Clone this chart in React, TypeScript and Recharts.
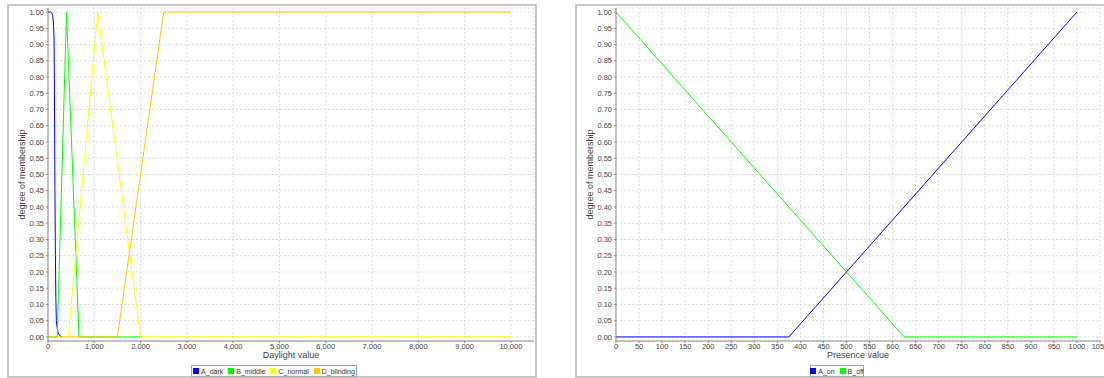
import React from 'react';
import { LineChart, Line, XAxis, YAxis, CartesianGrid } from 'recharts';

// ---------- Data ----------
const daylightTicks = [0, 1000, 2000, 3000, 4000, 5000, 6000, 7000, 8000, 9000, 10000];
const presenceTicks = [0, 50, 100, 150, 200, 250, 300, 350, 400, 450, 500, 550, 600, 650, 700, 750, 800, 850, 900, 950, 1000, 1050];
const membershipTicks = [0, 0.05, 0.1, 0.15, 0.2, 0.25, 0.3, 0.35, 0.4, 0.45, 0.5, 0.55, 0.6, 0.65, 0.7, 0.75, 0.8, 0.85, 0.9, 0.95, 1];

const aDarkX = [0, 60, 80, 100, 110, 120, 130, 140, 145, 150, 160, 170, 180, 200, 220, 250, 300];
const aDarkY = [1, 1, 0.998, 0.99, 0.98, 0.96, 0.92, 0.75, 0.56, 0.45, 0.25, 0.12, 0.05, 0.025, 0.012, 0.005, 0];

const bMiddleX = [0, 200, 400, 670, 2000];
const bMiddleY = [0, 0, 1, 0, 0];

const cNormalX = [440, 1075, 2000, 10000];
const cNormalY = [0, 1, 0, 0];

const dBlindingX = [0, 1500, 2500, 10000];
const dBlindingY = [0, 0, 1, 1];

const aOnX = [0, 375, 1000];
const aOnY = [0, 0, 1];

const bOffX = [0, 625, 1000];
const bOffY = [1, 0, 0];

const daylightSeries = [
  { name: 'A_dark', color: '#0000ff', x: aDarkX, y: aDarkY },
  { name: 'B_middle', color: '#00ff00', x: bMiddleX, y: bMiddleY },
  { name: 'C_normal', color: '#ffff00', x: cNormalX, y: cNormalY },
  { name: 'D_blinding', color: '#ffc800', x: dBlindingX, y: dBlindingY },
];

const presenceSeries = [
  { name: 'A_on', color: '#0000ff', x: aOnX, y: aOnY },
  { name: 'B_off', color: '#00ff00', x: bOffX, y: bOffY },
];

const toPoints = (xs: number[], ys: number[]) => xs.map((x, i) => ({ x, y: ys[i] }));

// ---------- Styles ----------
const FONT = '"Liberation Sans", Arial, sans-serif';
const TICK = { fontSize: 7.5, fill: '#444', fontFamily: FONT };
const AXIS_COLOR = '#8a8a8a';
const GRID_COLOR = '#dcdcdc';

type Series = { name: string; color: string; x: number[]; y: number[] };

function Legend({ items, left, width }: { items: Series[]; left: number; width: number }) {
  return (
    <div
      style={{
        position: 'absolute',
        left,
        top: 365,
        width,
        height: 12,
        boxSizing: 'border-box',
        border: '1px solid #a8a8a8',
        display: 'flex',
        alignItems: 'center',
        justifyContent: 'center',
        gap: 5,
        fontFamily: FONT,
        fontSize: 7,
        lineHeight: '9px',
        color: '#333',
        background: '#fff',
        whiteSpace: 'nowrap',
      }}
    >
      {items.map((s) => (
        <div key={s.name} style={{ display: 'flex', alignItems: 'center', gap: 2 }}>
          <span style={{ display: 'inline-block', width: 6, height: 6, background: s.color }} />
          <span>{s.name}</span>
        </div>
      ))}
    </div>
  );
}

function Panel({
  left,
  series,
  ticks,
  domain,
  xLabel,
  format,
  chartWidth,
  marginRight,
}: {
  left: number;
  series: Series[];
  ticks: number[];
  domain: [number, number];
  xLabel: string;
  format: (v: number) => string;
  chartWidth: number;
  marginRight: number;
}) {
  return (
    <div style={{ position: 'absolute', left, top: 0 }}>
      <LineChart width={chartWidth} height={378} margin={{ top: 8, right: marginRight, bottom: 0, left: 0 }}>
        <CartesianGrid stroke={GRID_COLOR} strokeDasharray="2 2" />
        <XAxis
          type="number"
          dataKey="x"
          domain={domain}
          ticks={ticks}
          interval={0}
          allowDataOverflow
          height={37}
          tickSize={2}
          tickMargin={1}
          tick={TICK}
          tickFormatter={format}
          stroke={AXIS_COLOR}
          label={{ value: xLabel, position: 'insideTop', offset: 11, fontSize: 9, fill: '#444', fontFamily: FONT }}
        />
        <XAxis
          xAxisId="top"
          orientation="top"
          type="number"
          domain={domain}
          height={0}
          tick={false}
          tickLine={false}
          stroke="#b0b0b0"
        />
        <YAxis
          type="number"
          domain={[-0.0125, 1.0125]}
          ticks={membershipTicks}
          interval={0}
          allowDataOverflow
          width={48}
          tickSize={2}
          tickMargin={2}
          tick={TICK}
          tickFormatter={(v: number) => v.toFixed(2)}
          stroke={AXIS_COLOR}
          label={{ value: 'degree of membership', angle: -90, position: 'center', dx: -2, fontSize: 9, fill: '#444', fontFamily: FONT }}
        />
        <YAxis
          yAxisId="right"
          orientation="right"
          type="number"
          domain={[0, 1]}
          width={0}
          tick={false}
          tickLine={false}
          stroke="#b0b0b0"
        />
        {series.map((s) => (
          <Line
            key={s.name}
            data={toPoints(s.x, s.y)}
            dataKey="y"
            name={s.name}
            type="linear"
            stroke={s.color}
            strokeWidth={1}
            dot={false}
            activeDot={false}
            isAnimationActive={false}
          />
        ))}
      </LineChart>
    </div>
  );
}

export default function App() {
  return (
    <div
      style={{
        position: 'fixed',
        left: 0,
        top: 0,
        width: 1104,
        height: 378,
        background: '#fff',
        overflow: 'hidden',
        fontFamily: FONT,
      }}
    >
      <div
        style={{
          position: 'absolute',
          left: 7,
          top: 4,
          width: 530,
          height: 374,
          boxSizing: 'border-box',
          border: '2px solid #c8c8c8',
        }}
      />
      <div
        style={{
          position: 'absolute',
          left: 575,
          top: 4,
          width: 560,
          height: 374,
          boxSizing: 'border-box',
          border: '2px solid #c8c8c8',
        }}
      />
      <Panel
        left={0}
        series={daylightSeries}
        ticks={daylightTicks}
        domain={[0, 10500]}
        xLabel="Daylight value"
        format={(v) => v.toLocaleString('en-US')}
        chartWidth={536}
        marginRight={2}
      />
      <Panel
        left={568}
        series={presenceSeries}
        ticks={presenceTicks}
        domain={[0, 1050]}
        xLabel="Presence value"
        format={(v) => String(v)}
        chartWidth={536}
        marginRight={4}
      />
      <Legend items={daylightSeries} left={191} width={166} />
      <Legend items={presenceSeries} left={810} width={54} />
    </div>
  );
}
